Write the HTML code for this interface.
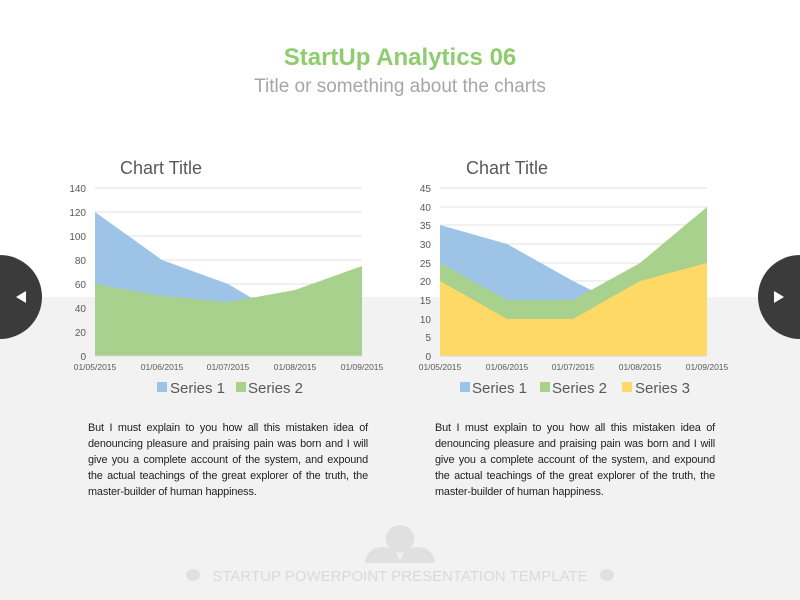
<!DOCTYPE html><html><head><style>
body{margin:0;width:800px;height:600px;overflow:hidden;font-family:"Liberation Sans",sans-serif;background:#fff;position:relative}
.bg{position:absolute;left:0;top:297px;width:800px;height:303px;background:#f2f2f2}
.t1{position:absolute;top:44px;width:800px;text-align:center;color:#8fcc6e;font-weight:bold;font-size:24px}
.t2{position:absolute;top:76px;width:800px;text-align:center;color:#a6a6a6;font-size:19px}
.p{position:absolute;top:420px;width:280px;font-size:10.9px;letter-spacing:-0.15px;line-height:16px;color:#222;text-align:justify}
</style></head><body>
<div class="bg"></div>
<div class="t1">StartUp Analytics 06</div>
<div class="t2">Title or something about the charts</div>
<svg width="800" height="600" style="position:absolute;left:0;top:0" font-family="Liberation Sans, sans-serif">
<g font-size="18" fill="#595959" font-weight="500"><text x="120" y="174">Chart Title</text><text x="466" y="174">Chart Title</text></g>
<g stroke="#e0e0e0" stroke-width="1">
<line x1="95" x2="362" y1="188" y2="188"/><line x1="95" x2="362" y1="212" y2="212"/><line x1="95" x2="362" y1="236" y2="236"/><line x1="95" x2="362" y1="260" y2="260"/><line x1="95" x2="362" y1="284" y2="284"/><line x1="95" x2="362" y1="308" y2="308"/><line x1="95" x2="362" y1="332" y2="332"/>
<line x1="440" x2="707" y1="188" y2="188"/><line x1="440" x2="707" y1="207" y2="207"/><line x1="440" x2="707" y1="225" y2="225"/><line x1="440" x2="707" y1="244" y2="244"/><line x1="440" x2="707" y1="263" y2="263"/><line x1="440" x2="707" y1="281" y2="281"/><line x1="440" x2="707" y1="300" y2="300"/><line x1="440" x2="707" y1="319" y2="319"/><line x1="440" x2="707" y1="337" y2="337"/>
</g>
<polygon fill="#9dc3e6" points="95,356 95,212 162,260 228,284 255,300 255,356"/>
<polygon fill="#a9d18e" points="95,356 95,284 162,296 228,302 295,290 362,266 362,356"/>
<polygon fill="#9dc3e6" points="440,356 440,225 507,244 573,281 595,292 595,356"/>
<polygon fill="#a9d18e" points="440,356 440,263 507,300 573,300 640,263 707,207 707,356"/>
<polygon fill="#ffd966" points="440,356 440,281 507,319 573,319 640,281 707,263 707,356"/>
<line x1="95" x2="362" y1="356" y2="356" stroke="#d9d9d9"/><line x1="440" x2="707" y1="356" y2="356" stroke="#d9d9d9"/>
<g font-size="10" fill="#595959" text-anchor="end">
<text x="86" y="192">140</text><text x="86" y="216">120</text><text x="86" y="240">100</text><text x="86" y="264">80</text><text x="86" y="288">60</text><text x="86" y="312">40</text><text x="86" y="336">20</text><text x="86" y="360">0</text>
<text x="431" y="192">45</text><text x="431" y="211">40</text><text x="431" y="229">35</text><text x="431" y="248">30</text><text x="431" y="267">25</text><text x="431" y="285">20</text><text x="431" y="304">15</text><text x="431" y="323">10</text><text x="431" y="341">5</text><text x="431" y="360">0</text>
</g>
<g font-size="8.5" fill="#595959" text-anchor="middle">
<text x="95" y="370">01/05/2015</text><text x="162" y="370">01/06/2015</text><text x="228" y="370">01/07/2015</text><text x="295" y="370">01/08/2015</text><text x="362" y="370">01/09/2015</text>
<text x="440" y="370">01/05/2015</text><text x="507" y="370">01/06/2015</text><text x="573" y="370">01/07/2015</text><text x="640" y="370">01/08/2015</text><text x="707" y="370">01/09/2015</text>
</g>
<g font-size="15" fill="#595959">
<rect x="157" y="382" width="10" height="10" fill="#9dc3e6"/><text x="170" y="393">Series 1</text>
<rect x="236" y="382" width="10" height="10" fill="#a9d18e"/><text x="248" y="393">Series 2</text>
<rect x="460" y="382" width="10" height="10" fill="#9dc3e6"/><text x="472" y="393">Series 1</text>
<rect x="540" y="382" width="10" height="10" fill="#a9d18e"/><text x="552" y="393">Series 2</text>
<rect x="622" y="382" width="10" height="10" fill="#ffd966"/><text x="635" y="393">Series 3</text>
</g>
<circle cx="0" cy="297" r="42" fill="#3b3b3b"/><polygon points="16,297 26,291 26,303" fill="#fff"/>
<circle cx="800" cy="297" r="42" fill="#3b3b3b"/><polygon points="774,291 774,303 784,297" fill="#fff"/>
<g fill="#e0e0e0"><circle cx="400" cy="539" r="14"/><path d="M365,563 a17.5,16 0 0 1 35,0z"/><path d="M400,563 a17.5,16 0 0 1 35,0z"/><ellipse cx="193" cy="575" rx="7" ry="6"/><ellipse cx="607" cy="575" rx="7" ry="6"/></g>
<text x="400" y="581" text-anchor="middle" font-size="15" fill="#dadada">STARTUP POWERPOINT PRESENTATION TEMPLATE</text>
</svg>
<div class="p" style="left:88px">But I must explain to you how all this mistaken idea of denouncing pleasure and praising pain was born and I will give you a complete account of the system, and expound the actual teachings of the great explorer of the truth, the master-builder of human happiness.</div>
<div class="p" style="left:435px">But I must explain to you how all this mistaken idea of denouncing pleasure and praising pain was born and I will give you a complete account of the system, and expound the actual teachings of the great explorer of the truth, the master-builder of human happiness.</div>
</body></html>
